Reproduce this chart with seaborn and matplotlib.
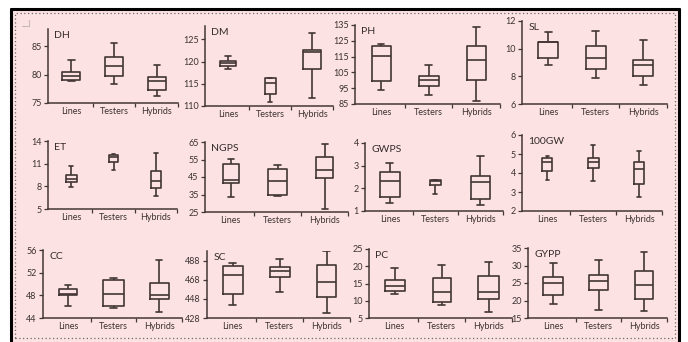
import numpy as np
import pandas as pd
import matplotlib
matplotlib.use("Agg")
import matplotlib.pyplot as plt
from matplotlib.patches import Rectangle
from matplotlib.lines import Line2D
import seaborn as sns

# ---------------- data: five-number summaries (min, Q1, median, Q3, max) ----------------
groups = ["Lines", "Testers", "Hybrids"]
traits = ["DH", "DM", "PH", "SL", "ET", "NGPS", "GWPS", "100GW", "CC", "SC", "PC", "GYPP"]

DH = [[78.9, 79.1, 79.8, 80.4, 82.5], [78.4, 79.8, 81.5, 83.1, 85.5], [76.3, 77.3, 78.9, 79.6, 81.7]]
DM = [[118.4, 119.0, 119.6, 120.1, 121.2], [111.0, 112.8, 115.1, 116.2, 116.3], [111.9, 118.3, 122.1, 122.7, 126.4]]
PH = [[93.7, 99.8, 115.4, 121.5, 123.0], [90.8, 96.7, 100.3, 103.0, 109.4], [86.7, 100.4, 112.9, 122.0, 133.7]]
SL = [[8.8, 9.35, 10.45, 10.5, 11.2], [7.9, 8.5, 9.3, 10.2, 11.3], [7.35, 8.05, 8.8, 9.2, 10.65]]
ET = [[7.9, 8.6, 9.0, 9.5, 10.7], [10.2, 11.2, 11.9, 12.1, 12.3], [6.7, 7.8, 8.7, 10.0, 12.4]]
NGPS = [[33.6, 41.6, 43.5, 52.4, 55.1], [33.9, 34.7, 42.5, 49.7, 51.8], [26.5, 44.3, 49.0, 56.6, 64.0]]
GWPS = [[1.37, 1.63, 2.31, 2.73, 3.13], [1.75, 2.13, 2.31, 2.37, 2.38], [1.26, 1.51, 2.28, 2.55, 3.43]]
GW100 = [[3.63, 4.12, 4.56, 4.77, 4.90], [3.58, 4.28, 4.60, 4.80, 5.45], [2.72, 3.40, 4.20, 4.60, 5.18]]
CC = [[46.2, 48.0, 48.3, 49.1, 49.9], [45.8, 46.1, 48.3, 50.7, 51.0], [45.0, 47.3, 48.1, 50.1, 54.2]]
SC = [[441.7, 453.2, 473.2, 482.0, 485.5], [455.4, 470.8, 476.8, 481.4, 489.7], [433.0, 449.5, 465.6, 483.8, 497.5]]
PC = [[12.1, 12.7, 14.3, 16.0, 19.6], [8.7, 9.6, 12.6, 16.5, 20.3], [6.8, 10.5, 12.6, 17.2, 21.1]]
GYPP = [[19.1, 21.5, 25.0, 26.7, 30.7], [17.4, 22.9, 25.5, 27.2, 31.5], [17.1, 20.5, 24.5, 28.5, 33.8]]

yticks_DH = [75, 80, 85]
yticks_DM = [110, 115, 120, 125]
yticks_PH = [85, 95, 105, 115, 125, 135]
yticks_SL = [6, 8, 10, 12]
yticks_ET = [5, 8, 11, 14]
yticks_NGPS = [25, 35, 45, 55, 65]
yticks_GWPS = [1, 2, 3, 4]
yticks_GW100 = [2, 3, 4, 5, 6]
yticks_CC = [44, 48, 52, 56]
yticks_SC = [428, 448, 468, 488]
yticks_PC = [5, 10, 15, 20, 25]
yticks_GYPP = [15, 20, 25, 30, 35]

summaries = [DH, DM, PH, SL, ET, NGPS, GWPS, GW100, CC, SC, PC, GYPP]
tick_sets = [yticks_DH, yticks_DM, yticks_PH, yticks_SL, yticks_ET, yticks_NGPS,
             yticks_GWPS, yticks_GW100, yticks_CC, yticks_SC, yticks_PC, yticks_GYPP]

rows = []
for t, summ in zip(traits, summaries):
    for g, vals in zip(groups, summ):
        for v in vals:
            rows.append({"trait": t, "group": g, "value": v})
df = pd.DataFrame(rows)

# ---------------- styling / layout ----------------
ylim_top = {"DH": 88, "DM": 128, "SC": 498}
# axes boxes in pixels: left, top, right, bottom
boxes = {
    "DH": (48, 29, 178, 103), "DM": (205, 26, 333, 106), "PH": (355, 25, 500, 104), "SL": (522, 21, 667, 104),
    "ET": (48, 141, 177, 209), "NGPS": (205, 142, 348, 212), "GWPS": (365, 143, 503, 211), "100GW": (522, 135, 662, 211),
    "CC": (43, 250, 182, 318), "SC": (207, 251, 350, 318), "PC": (369, 249, 512, 318), "GYPP": (528, 248, 667, 318),
}
widths = {
    "DH": [0.42, 0.42, 0.42], "DM": [0.37, 0.26, 0.43], "PH": [0.40, 0.42, 0.40], "SL": [0.42, 0.42, 0.42],
    "ET": [0.26, 0.23, 0.23], "NGPS": [0.34, 0.40, 0.37], "GWPS": [0.44, 0.24, 0.43], "100GW": [0.21, 0.24, 0.20],
    "CC": [0.40, 0.45, 0.41], "SC": [0.42, 0.42, 0.42], "PC": [0.42, 0.39, 0.43], "GYPP": [0.44, 0.42, 0.40],
}

sns.set_theme(style="white")
plt.rcParams["font.family"] = ["Lato", "DejaVu Sans"]

W, H = 688, 342
PINK = "#fce2e3"
LINE = "#433636"
TXT = "#3d3232"

fig = plt.figure(figsize=(W / 100, H / 100), dpi=100)
fig.patch.set_facecolor("white")

# page background and frame
fig.patches.append(Rectangle((11 / W, 0), 668 / W, 1 - 9 / H, transform=fig.transFigure,
                             facecolor=PINK, edgecolor="none", zorder=-10))
for (x0, y0, x1, y1) in [(11, 9, 679, 9), (11, 9, 11, 342), (679, 9, 679, 342)]:
    fig.add_artist(Line2D([x0 / W, x1 / W], [1 - y0 / H, 1 - y1 / H], transform=fig.transFigure,
                          color="black", lw=2.2))
fig.patches.append(Rectangle((15 / W, 1 - 338 / H), 660 / W, 325 / H, transform=fig.transFigure,
                             facecolor="none", edgecolor="#6a6a6a", lw=0.9, linestyle=(0, (1, 2)), zorder=-5))
# small corner mark
fig.add_artist(Line2D([22 / W, 29 / W, 29 / W], [1 - 26 / H, 1 - 26 / H, 1 - 20 / H],
                      transform=fig.transFigure, color="#c9b8b8", lw=0.8))

for t, yt in zip(traits, tick_sets):
    l, tp, r, b = boxes[t]
    ax = fig.add_axes([l / W, 1 - b / H, (r - l) / W, (b - tp) / H])
    ax.set_facecolor("none")
    sub_t = df[df["trait"] == t]
    for gi, g in enumerate(groups):
        sub = sub_t[sub_t["group"] == g]
        w = widths[t][gi]
        sns.boxplot(data=sub, x="group", y="value", order=groups, ax=ax, width=w,
                    whis=(0, 100), fill=False, color=LINE, linewidth=1.2,
                    showfliers=False, capwidths=0.35 * w)
    ax.set_xlim(-0.55, 2.5)
    ax.set_ylim(yt[0], ylim_top.get(t, yt[-1]))
    ax.set_yticks(yt)
    ax.set_yticklabels([str(v) for v in yt])
    ax.set_xticks([0, 1, 2])
    ax.set_xticklabels(groups)
    ax.set_xticks([0.5, 1.5, 2.5], minor=True)
    ax.set_xlabel("")
    ax.set_ylabel("")
    for s in ["top", "right"]:
        ax.spines[s].set_visible(False)
    for s in ["left", "bottom"]:
        ax.spines[s].set_color(LINE)
        ax.spines[s].set_linewidth(1.1)
    ax.tick_params(axis="y", which="major", length=3, width=0.9, color=LINE, labelsize=6.5,
                   labelcolor=TXT, pad=1.5, left=True)
    ax.tick_params(axis="x", which="major", length=0, labelsize=6.5, labelcolor=TXT, pad=3)
    ax.tick_params(axis="x", which="minor", length=3, width=0.9, color=LINE, bottom=True)
    ax.annotate(t, xy=(0, 1), xycoords="axes fraction", xytext=(4.5, -4.5),
                textcoords="offset points", ha="left", va="center", fontsize=7.5, color="#352b2b")

fig.savefig("out.png", dpi=100, facecolor="white")
